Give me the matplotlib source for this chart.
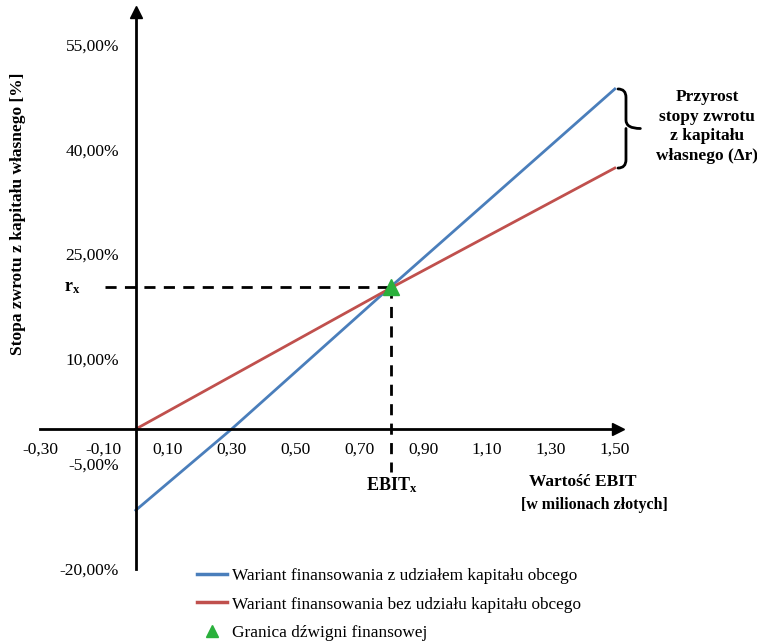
import matplotlib
matplotlib.use("Agg")
import matplotlib.pyplot as plt
from matplotlib.path import Path
from matplotlib.patches import PathPatch
from matplotlib.lines import Line2D

plt.rcParams['font.family'] = ['Liberation Serif', 'DejaVu Serif']
plt.rcParams['mathtext.fontset'] = 'custom'
plt.rcParams['mathtext.rm'] = 'Liberation Serif'
plt.rcParams['mathtext.bf'] = 'Liberation Serif:bold'

# Data (EBIT in mln zł, return on equity in %)
ebit_z_obcym = [0.0, 0.30, 0.80, 1.50]
roe_z_obcym = [-11.6, 0.0, 20.4, 48.6]
ebit_bez_obcego = [0.0, 0.80, 1.50]
roe_bez_obcego = [0.0, 20.2, 37.3]
ebit_x = 0.80
r_x = 20.3

x_ticks = [-0.30, -0.10, 0.10, 0.30, 0.50, 0.70, 0.90, 1.10, 1.30, 1.50]
y_ticks = [-20, -5, 10, 25, 40, 55]

blue = '#4a7ebb'
red = '#c0504d'
green = '#2ab03c'

fig = plt.figure(figsize=(7.57, 6.41), dpi=100)
ax = fig.add_axes([40 / 757, 1 - 569 / 641, 578 / 757, 557 / 641])
ax.set_xlim(-0.30, 1.51)
ax.set_ylim(-20, 59.6)

# axes crossing at zero
for s in ['top', 'right']:
    ax.spines[s].set_visible(False)
ax.spines['left'].set_position(('data', 0))
ax.spines['bottom'].set_position(('data', 0))
for s in ['left', 'bottom']:
    ax.spines[s].set_linewidth(2.0)
ax.plot(1, 0, '>k', ms=8, transform=ax.get_yaxis_transform(), clip_on=False)
ax.plot(0, 1, '^k', ms=8, transform=ax.get_xaxis_transform(), clip_on=False)

ax.set_xticks(x_ticks)
ax.set_xticklabels([f"{v:.2f}".replace('.', ',') for v in x_ticks])
ax.set_yticks(y_ticks)
ax.set_yticklabels([f"{v:.2f}%".replace('.', ',') for v in y_ticks])
ax.tick_params(axis='x', length=0, pad=9, labelsize=12.5)
ax.tick_params(axis='y', length=0, pad=12, labelsize=12.5)

# series
ax.plot(ebit_z_obcym, roe_z_obcym, color=blue, lw=2.0, clip_on=False)
ax.plot(ebit_bez_obcego, roe_bez_obcego, color=red, lw=2.0, clip_on=False)

# break-even dashed guides
ax.plot([-0.097, ebit_x], [r_x, r_x], color='k', lw=2.0, ls=(0, (4, 3)))
ax.plot([ebit_x, ebit_x], [r_x, -6.2], color='k', lw=2.0, ls=(0, (4, 3)))
ax.plot([ebit_x], [r_x], marker='^', color=green, ms=11, zorder=5)

ax.text(-0.20, r_x, r'$\mathbf{r_x}$', fontsize=13, ha='center', va='center')
ax.text(ebit_x, -8.0, r'$\mathbf{EBIT_x}$', fontsize=13, ha='center', va='center')

ax.text(1.40, -7.6, 'Wartość EBIT', fontsize=12.5, fontweight='bold',
        ha='center', va='center')
ax.text(1.435, -10.8, '[w milionach złotych]', fontsize=11.5, fontweight='bold',
        ha='center', va='center')

fig.text(18 / 757, 1 - 214 / 641, 'Stopa zwrotu z kapitału własnego [%]',
         rotation=90, fontsize=12.5, fontweight='bold', ha='center', va='center')

# curly brace showing the difference at the end of lines
y_top = roe_z_obcym[-1]
y_bot = roe_bez_obcego[-1]
y_mid = (y_top + y_bot) / 2
x0, x1, x2 = 1.51, 1.535, 1.58
verts = [(x0, y_top), (x1, y_top), (x1, y_top - 1.2),
         (x1, y_mid + 1.2),
         (x1, y_mid), (x2, y_mid),
         (x1, y_mid), (x1, y_mid - 1.2),
         (x1, y_bot + 1.2),
         (x1, y_bot), (x0, y_bot)]
codes = [Path.MOVETO, Path.CURVE3, Path.CURVE3,
         Path.LINETO,
         Path.CURVE3, Path.CURVE3,
         Path.MOVETO, Path.CURVE3,
         Path.LINETO,
         Path.CURVE3, Path.CURVE3]
ax.add_patch(PathPatch(Path(verts, codes), fill=False, lw=2.0, ec='k',
                       clip_on=False, capstyle='round', joinstyle='round'))
ax.text(1.79, y_mid + 0.3, 'Przyrost\nstopy zwrotu\nz kapitału\nwłasnego (Δr)',
        fontsize=12.5, fontweight='bold', ha='center', va='center',
        linespacing=1.3)

handles = [Line2D([], [], color=blue, lw=2.5),
           Line2D([], [], color=red, lw=2.5),
           Line2D([], [], color=green, marker='^', ls='none', ms=8)]
labels = ['Wariant finansowania z udziałem kapitału obcego',
          'Wariant finansowania bez udziału kapitału obcego',
          'Granica dźwigni finansowej']
fig.legend(handles, labels, loc='upper left',
           bbox_to_anchor=(197 / 757, 1 - 568 / 641), frameon=False,
           fontsize=12.4, handlelength=1.75, handletextpad=0.3,
           labelspacing=0.72, borderpad=0, borderaxespad=0)

fig.savefig('out.png', dpi=100)
